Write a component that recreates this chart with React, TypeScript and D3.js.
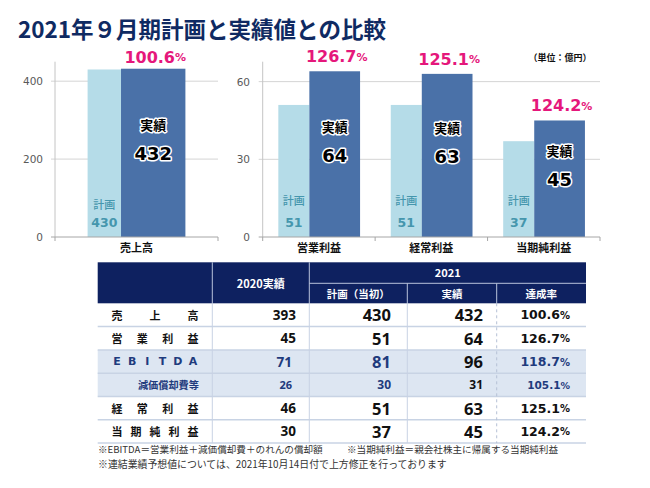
import React from "react";
import * as d3 from "d3";

// ---------- data ----------
const titleText = "2021年９月期計画と実績値との比較";
const unitText = "（単位：億円）";

const salesCategories = ["売上高"];
const salesPlan = [430];
const salesActual = [432];
const salesRate = ["100.6"];
const salesTicks = [0, 200, 400];
const salesMax = 450;

const profitCategories = ["営業利益", "経常利益", "当期純利益"];
const profitPlan = [51, 51, 37];
const profitActual = [64, 63, 45];
const profitRate = ["126.7", "125.1", "124.2"];
const profitTicks = [0, 30, 60];
const profitMax = 67.7;

const planLabel = "計画";
const actualLabel = "実績";

const tableRowLabels = ["売上高", "営業利益", "EBITDA", "減価償却費等", "経常利益", "当期純利益"];
const actual2020 = [393, 45, 71, 26, 46, 30];
const plan2021 = [430, 51, 81, 30, 51, 37];
const actual2021 = [432, 64, 96, 31, 63, 45];
const rate2021 = ["100.6", "126.7", "118.7", "105.1", "125.1", "124.2"];
const highlightRows = ["EBITDA", "減価償却費等"];
const smallRows = ["減価償却費等"];
const headerPrev = "2020実績";
const headerYear = "2021";
const headerSub = ["計画（当初）", "実績", "達成率"];

const footnote1a = "※EBITDA＝営業利益＋減価償却費＋のれんの償却額";
const footnote1b = "※当期純利益＝親会社株主に帰属する当期純利益";
const footnote2 = "※連結業績予想値については、2021年10月14日付で上方修正を行っております";

// ---------- styles ----------
const CJK = "'Noto Sans CJK JP', 'Noto Sans', sans-serif";
const NUM = "'DejaVu Sans', Verdana, sans-serif";
const TNUM = "'Noto Sans', 'Noto Sans CJK JP', sans-serif";
const NAVY = "#0f2a62";
const HEAD = "#0e2160";
const PLAN = "#b5dce8";
const ACT = "#4a71a8";
const TEAL = "#4596ad";
const MAG = "#e5177b";
const SUBNAVY = "#1f3b7d";
const LINE = "#c8d3e4";

type PanelProps = {
  categories: string[];
  plan: number[];
  actual: number[];
  rate: string[];
  ticks: number[];
  max: number;
  xRange: [number, number];
  frac: [number, number, number];
  labelRight: number;
  planGap: number;
  pctGap: number;
};

function Halo(props: { x: number; y: number; size: number; family: string; children: React.ReactNode }) {
  return (
    <text
      x={props.x}
      y={props.y}
      textAnchor="middle"
      dominantBaseline="central"
      fontFamily={props.family}
      fontWeight={700}
      fontSize={props.size}
      fill="#000"
      stroke="#fff"
      strokeWidth={3}
      strokeLinejoin="round"
      style={{ paintOrder: "stroke" }}
    >
      {props.children}
    </text>
  );
}

function BarPanel(p: PanelProps) {
  const y = d3.scaleLinear().domain([0, p.max]).range([237, 61.7]);
  const x = d3.scaleBand<string>().domain(p.categories).range(p.xRange).padding(0);
  const bw = x.bandwidth();
  const y0 = y(0);
  const boundaries = [p.xRange[0], ...p.categories.map((c) => (x(c) as number) + bw)];
  return (
    <g>
      {p.ticks
        .filter((t) => t !== 0)
        .map((t) => (
          <line key={"g" + t} x1={p.xRange[0] - 4} x2={p.xRange[1]} y1={y(t)} y2={y(t)} stroke="#d4d4d4" strokeWidth={1} />
        ))}
      <line x1={p.xRange[0]} x2={p.xRange[0]} y1={y0} y2={y(p.max)} stroke="#c4c4c4" strokeWidth={1} />
      {p.ticks.map((t) => (
        <text
          key={"t" + t}
          x={p.labelRight}
          y={y(t)}
          textAnchor="end"
          dominantBaseline="central"
          fontFamily={NUM}
          fontSize={10.5}
          fill="#595959"
        >
          {t}
        </text>
      ))}
      {p.categories.map((c, i) => {
        const bx = x(c) as number;
        const px0 = bx + bw * p.frac[0];
        const px1 = bx + bw * p.frac[1];
        const ax1 = bx + bw * p.frac[2];
        const pc = (px0 + px1) / 2;
        const ac = (px1 + ax1) / 2;
        const mid = y(p.actual[i] / 2);
        return (
          <g key={c}>
            <rect x={px0} y={y(p.plan[i])} width={px1 - px0} height={y0 - y(p.plan[i])} fill={PLAN} />
            <rect x={px1} y={y(p.actual[i])} width={ax1 - px1} height={y0 - y(p.actual[i])} fill={ACT} />
            <text x={pc} y={y0 - p.planGap} textAnchor="middle" dominantBaseline="central" fontFamily={CJK} fontSize={11} fontWeight={500} fill={TEAL}>
              {planLabel}
            </text>
            <text x={pc} y={y0 - 15} textAnchor="middle" dominantBaseline="central" fontFamily={NUM} fontSize={12.5} fontWeight={700} fill={TEAL}>
              {p.plan[i]}
            </text>
            <Halo x={ac} y={mid - 28} size={13} family={CJK}>
              {actualLabel}
            </Halo>
            <Halo x={ac} y={mid + 1} size={18} family={NUM}>
              {p.actual[i]}
            </Halo>
            <text x={ac + 2} y={y(p.actual[i]) - p.pctGap} textAnchor="middle" dominantBaseline="central" fontFamily={NUM} fontWeight={700} fontSize={16} fill={MAG}>
              {p.rate[i]}
              <tspan fontSize={11}>%</tspan>
            </text>
            <text x={bx + bw / 2} y={246.5} textAnchor="middle" dominantBaseline="central" fontFamily={CJK} fontWeight={700} fontSize={11} fill="#111">
              {c}
            </text>
          </g>
        );
      })}
      <line x1={p.xRange[0] - 4} x2={p.xRange[1]} y1={y0} y2={y0} stroke="#a6a6a6" strokeWidth={1} />
      {boundaries.map((b, i) => (
        <line key={"b" + i} x1={b} x2={b} y1={y0} y2={y0 + 4} stroke="#a6a6a6" strokeWidth={1} />
      ))}
    </g>
  );
}

function SpacedLabel(props: { label: string; y: number; fill: string; family: string; size: number }) {
  const chars = Array.from(props.label);
  const pos = d3.scaleLinear().domain([0, chars.length - 1]).range([117, 193]);
  return (
    <g>
      {chars.map((ch, i) => (
        <text
          key={i}
          x={pos(i)}
          y={props.y}
          textAnchor="middle"
          dominantBaseline="central"
          fontFamily={props.family}
          fontWeight={700}
          fontSize={props.size}
          fill={props.fill}
        >
          {ch}
        </text>
      ))}
    </g>
  );
}

function Table() {
  const cols = [97.7, 212.3, 309.3, 407.3, 496.7, 586];
  const top = 262.3;
  const hMid = 283.3;
  const hBot = 303.3;
  const rowH = 23.3;
  const rowY = d3.scaleLinear().domain([0, tableRowLabels.length]).range([hBot, hBot + rowH * tableRowLabels.length]);
  const bottom = rowY(tableRowLabels.length);
  return (
    <g>
      {tableRowLabels.map((r, i) =>
        highlightRows.includes(r) ? (
          <rect key={"bg" + i} x={cols[0]} y={rowY(i)} width={cols[5] - cols[0]} height={rowH} fill="#dde6f2" />
        ) : null
      )}
      <rect x={cols[0]} y={top} width={cols[5] - cols[0]} height={hBot - top} fill={HEAD} />
      <line x1={cols[1]} x2={cols[1]} y1={top} y2={hBot} stroke="#b9c4dc" strokeWidth={1} />
      <line x1={cols[2]} x2={cols[2]} y1={top} y2={hBot} stroke="#b9c4dc" strokeWidth={1} />
      <line x1={cols[2]} x2={cols[5]} y1={hMid} y2={hMid} stroke="#b9c4dc" strokeWidth={1} />
      <line x1={cols[3]} x2={cols[3]} y1={hMid} y2={hBot} stroke="#b9c4dc" strokeWidth={1} />
      <line x1={cols[4]} x2={cols[4]} y1={hMid} y2={hBot} stroke="#b9c4dc" strokeWidth={1} />
      <text x={(cols[1] + cols[2]) / 2} y={282.5} textAnchor="middle" dominantBaseline="central" fontFamily={CJK} fontWeight={700} fontSize={11} fill="#fff">
        {headerPrev}
      </text>
      <text x={(cols[2] + cols[5]) / 2} y={272} textAnchor="middle" dominantBaseline="central" fontFamily={CJK} fontWeight={700} fontSize={11} fill="#fff">
        {headerYear}
      </text>
      {headerSub.map((h, i) => (
        <text key={h} x={(cols[2 + i] + cols[3 + i]) / 2} y={293.5} textAnchor="middle" dominantBaseline="central" fontFamily={CJK} fontWeight={700} fontSize={10.5} fill="#fff">
          {h}
        </text>
      ))}
      {tableRowLabels.map((r, i) => (
        <line key={"h" + i} x1={cols[0]} x2={cols[5]} y1={rowY(i + 1)} y2={rowY(i + 1)} stroke={LINE} strokeWidth={1.5} />
      ))}
      <line x1={cols[1]} x2={cols[1]} y1={hBot} y2={bottom} stroke={LINE} strokeWidth={1} />
      <line x1={cols[2]} x2={cols[2]} y1={hBot} y2={bottom} stroke={LINE} strokeWidth={1} />
      <line x1={cols[3]} x2={cols[3]} y1={hBot} y2={bottom} stroke={LINE} strokeWidth={1} />
      <line x1={cols[4]} x2={cols[4]} y1={hBot} y2={bottom} stroke="#b5c1d6" strokeWidth={1} strokeDasharray="3,3" />
      {tableRowLabels.map((r, i) => {
        const cy = rowY(i) + rowH / 2;
        const hl = highlightRows.includes(r);
        const sm = smallRows.includes(r);
        const color = hl ? SUBNAVY : "#111";
        const prevRight = hl ? 292 : 296;
        return (
          <g key={r}>
            {sm ? (
              <text x={199} y={cy} textAnchor="end" dominantBaseline="central" fontFamily={CJK} fontWeight={700} fontSize={10.2} fill={SUBNAVY}>
                {r}
              </text>
            ) : (
              <SpacedLabel label={r} y={cy} fill={hl ? SUBNAVY : "#111"} family={hl ? NUM : CJK} size={11} />
            )}
            <text x={prevRight} y={cy} textAnchor="end" dominantBaseline="central" fontFamily={TNUM} fontWeight={700} fontSize={sm ? 11 : 13.5} fill={color}>
              {actual2020[i]}
            </text>
            <text x={391} y={cy} textAnchor="end" dominantBaseline="central" fontFamily={TNUM} fontWeight={700} fontSize={sm ? 12 : 16.5} fill={color}>
              {plan2021[i]}
            </text>
            <text x={483} y={cy} textAnchor="end" dominantBaseline="central" fontFamily={TNUM} fontWeight={700} fontSize={sm ? 12 : 16.5} fill="#111">
              {actual2021[i]}
            </text>
            <text x={570} y={cy} textAnchor="end" dominantBaseline="central" fontFamily={NUM} fontWeight={700} fontSize={sm ? 10.5 : 12.5} fill={color}>
              {rate2021[i]}
              <tspan fontSize={sm ? 9.5 : 10}>%</tspan>
            </text>
          </g>
        );
      })}
    </g>
  );
}

export default function App() {
  return (
    <svg
      width={650}
      height={488}
      viewBox="0 0 650 488"
      style={{ position: "absolute", left: 0, top: 0, background: "#fff" }}
    >
      <rect x={0} y={0} width={650} height={488} fill="#fff" />
      <text x={18} y={28} dominantBaseline="central" fontFamily={CJK} fontWeight={700} fontSize={22.5} fill={NAVY}>
        {titleText}
      </text>
      <text x={560} y={57} textAnchor="middle" dominantBaseline="central" fontFamily={CJK} fontWeight={700} fontSize={9} fill="#111">
        {unitText}
      </text>
      <BarPanel
        categories={salesCategories}
        plan={salesPlan}
        actual={salesActual}
        rate={salesRate}
        ticks={salesTicks}
        max={salesMax}
        xRange={[55, 218]}
        frac={[0.2, 0.405, 0.8]}
        labelRight={43}
        planGap={33}
        pctGap={11.5}
      />
      <BarPanel
        categories={profitCategories}
        plan={profitPlan}
        actual={profitActual}
        rate={profitRate}
        ticks={profitTicks}
        max={profitMax}
        xRange={[262.7, 600]}
        frac={[0.139, 0.415, 0.866]}
        labelRight={250}
        planGap={37}
        pctGap={14.5}
      />
      <Table />
      <text x={98} y={448.5} dominantBaseline="central" fontFamily={CJK} fontSize={9.6} fill="#333">
        {footnote1a}
      </text>
      <text x={347} y={448.5} dominantBaseline="central" fontFamily={CJK} fontSize={9.6} fill="#333">
        {footnote1b}
      </text>
      <text x={98} y={463.5} dominantBaseline="central" fontFamily={CJK} fontSize={9.9} fill="#333">
        {footnote2}
      </text>
    </svg>
  );
}
